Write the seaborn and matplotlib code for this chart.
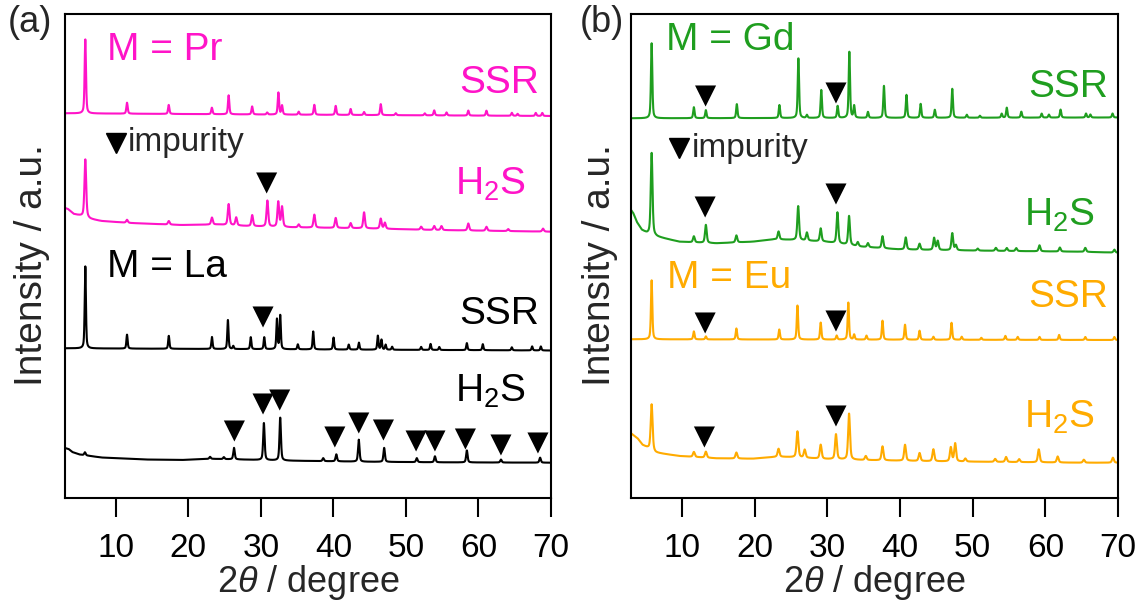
import numpy as np
import pandas as pd
import matplotlib
matplotlib.use("Agg")
import matplotlib.pyplot as plt
import seaborn as sns

# ---------------- peak lists (2theta in degree, peak height in a.u.) ----------------
# panel (a): M = Pr
pr_ssr_pos = [5.8, 11.55, 17.3, 23.25, 25.56, 28.8, 30.87, 32.42, 32.92, 35.22, 37.37, 40.32,
              42.38, 44.23, 46.53, 48.6, 52.6, 53.9, 55.6, 58.6, 61.1, 64.6, 65.4, 67.9, 68.8]
pr_ssr_h = [74, 11, 9, 6.5, 19, 8, 2, 22, 9, 3, 10, 9, 6, 3, 11, 2, 2, 5, 3, 5, 5, 3, 2, 3, 3]
pr_ssr_bg_x = [3, 30, 70]
pr_ssr_bg_y = [384.7, 383.5, 382.0]

pr_h2s_pos = [5.8, 11.55, 17.31, 23.26, 25.56, 26.6, 28.81, 30.9, 32.4, 32.92, 35.22, 37.37,
              40.32, 42.38, 44.23, 46.53, 47.1, 52.1, 53.9, 54.9, 58.6, 61.1, 64.1, 68.9]
pr_h2s_h = [58, 3, 3.5, 7, 21, 8, 11, 26, 25, 20, 3, 13, 10, 5, 16, 10, 6, 3, 4, 4, 7, 4, 2, 3]
pr_h2s_bg_x = [3, 3.4, 4.2, 5.0, 6.5, 8, 12, 19, 24, 28, 34, 44, 54, 70]
pr_h2s_bg_y = [290, 289, 284, 282.5, 279, 277, 275, 273, 273.5, 272, 270.7, 269.7, 268, 266.3]

# panel (a): M = La
la_ssr_pos = [5.8, 11.55, 17.31, 23.26, 25.46, 26.2, 28.61, 30.47, 32.22, 32.67, 35.1, 37.22,
              40.02, 42.12, 43.52, 46.13, 46.63, 47.2, 48.1, 52.1, 53.4, 54.6, 58.4, 60.6,
              64.6, 67.4, 68.6]
la_ssr_h = [82, 14, 13, 12, 29, 3, 12, 12, 30, 34, 5, 18, 12, 5, 7, 14, 10, 5, 3, 3, 6, 3, 7,
            6, 3, 4, 4]
la_ssr_bg_x = [3, 70]
la_ssr_bg_y = [149.7, 147.5]

la_h2s_pos = [5.75, 23.0, 24.9, 26.3, 30.42, 32.67, 38.6, 40.4, 43.5, 47.0, 51.5, 54.0, 58.4,
              63.1, 68.5]
la_h2s_h = [3, 2, 2, 11.5, 37, 43, 3, 7, 22, 14, 4, 6, 12, 3, 5]
la_h2s_bg_x = [3, 3.5, 4.0, 5.0, 8, 14, 19, 23, 26, 34, 44, 54, 70]
la_h2s_bg_y = [50, 49, 46, 43.5, 40.5, 38.5, 38, 39.2, 38.7, 37.3, 36.3, 35.7, 35.3]

# panel (b): M = Gd
gd_ssr_pos = [5.84, 11.65, 13.3, 17.56, 23.42, 26.03, 27.2, 29.18, 31.43, 33.04, 33.7, 35.6,
              37.8, 40.9, 42.85, 44.8, 47.2, 49.2, 51.0, 54.0, 54.7, 56.7, 59.5, 60.5, 62.1,
              65.6, 66.2, 69.25]
gd_ssr_h = [75, 11, 8, 14, 13, 60, 3, 28, 12, 66, 12, 6, 32, 23, 14, 8, 29, 3, 2, 4, 10, 6,
            4, 3, 8, 4, 3, 4]
gd_ssr_bg_x = [3, 70]
gd_ssr_bg_y = [379.7, 380.5]

gd_h2s_pos = [5.84, 11.65, 13.3, 17.5, 23.3, 26.0, 27.2, 29.1, 31.4, 33.0, 34.2, 35.6, 37.6,
              40.8, 42.7, 44.7, 45.2, 47.2, 47.7, 50.7, 53.2, 54.7, 56.0, 59.2, 62.0, 65.5,
              69.5]
gd_h2s_h = [82, 6, 18, 7, 8, 34, 8, 13, 31, 29, 4, 4, 12, 12, 6, 12, 9, 17, 5, 2, 3, 3, 3, 6,
            4, 4, 3]
gd_h2s_bg_x = [3, 3.3, 3.8, 4.5, 5.2, 6.6, 9.65, 14.7, 19.7, 22.7, 25.7, 29.7, 34.7, 39.7,
               44.7, 54.7, 64.7, 70]
gd_h2s_bg_y = [288, 285, 276, 268, 264.7, 261.3, 256.3, 254.7, 256.3, 258.7, 258, 256.3,
               251.3, 248.7, 248, 247, 246.3, 245.3]

# panel (b): M = Eu
eu_ssr_pos = [5.84, 11.65, 13.3, 17.5, 23.4, 25.9, 29.1, 31.3, 32.9, 33.7, 35.4, 37.6, 40.7,
              42.7, 44.6, 47.1, 48.5, 51.2, 54.5, 56.2, 59.2, 61.9, 65.5, 69.5]
eu_ssr_h = [59, 8, 3, 11, 10, 34, 17, 4, 37, 5, 4, 19, 15, 9, 3, 17, 3, 2, 4, 3, 3, 5, 3, 3]
eu_ssr_bg_x = [3, 70]
eu_ssr_bg_y = [158.7, 158.0]

eu_h2s_pos = [5.84, 11.65, 13.3, 17.5, 23.3, 25.9, 26.9, 29.1, 31.2, 33.0, 35.3, 37.6, 40.7,
              42.7, 44.6, 47.0, 47.6, 49.0, 53.1, 54.6, 56.4, 59.1, 61.7, 65.3, 69.3]
eu_h2s_h = [46, 5, 6, 6, 8, 26, 8, 14, 25, 46, 4, 14, 16, 8, 12, 14, 18, 3, 3, 5, 3, 13, 6, 3, 5]
eu_h2s_bg_x = [3, 3.9, 4.6, 5.4, 6.4, 9.65, 14.7, 19.7, 23.2, 25.7, 29.7, 34.7, 44.7, 54.7,
               64.7, 70]
eu_h2s_bg_y = [64.7, 59.7, 53, 49.7, 45.3, 42, 39.7, 39.3, 41.3, 40.7, 39, 38, 36.7, 36,
               35.3, 35.3]

# impurity markers (2theta, height)
tri_a_x = [30.8, 30.3, 26.35, 30.3, 32.6, 40.2, 43.5, 46.9, 51.4, 54.0, 58.2, 63.1, 68.2]
tri_a_y = [315, 181, 67, 94, 98, 61, 75, 68, 57, 57, 59, 53, 55]
tri_b_x = [13.26, 31.2, 13.2, 31.2, 13.2, 31.2, 13.1, 31.2]
tri_b_y = [402, 405, 291, 304, 175, 177, 61, 82]

x_ticks = [10, 20, 30, 40, 50, 60, 70]

PINK = "#ff14c8"
GREEN = "#1f9e1f"
ORANGE = "#ffab00"


def pattern(tt, pos, height, bg_x, bg_y, fwhm):
    """Background plus pseudo-Voigt reflections."""
    y = np.interp(tt, bg_x, bg_y)
    g = fwhm / 2.0
    for c, h in zip(pos, height):
        d = tt - c
        y = y + h * (0.5 * g ** 2 / (d ** 2 + g ** 2) + 0.5 * np.exp(-np.log(2) * (d / g) ** 2))
    return y


tt = np.arange(3.0, 70.0001, 0.02)

sns.set_style("ticks")
plt.rcParams["font.family"] = ["Liberation Sans", "DejaVu Sans"]
plt.rcParams["mathtext.fontset"] = "custom"
plt.rcParams["mathtext.rm"] = "Liberation Sans"
plt.rcParams["mathtext.it"] = "Liberation Sans:italic"

W, H = 1141, 607
fig = plt.figure(figsize=(W / 100, H / 100), dpi=100)
ax_a = fig.add_axes([65 / W, 1 - 498 / H, 486 / W, 484 / H])
ax_b = fig.add_axes([631 / W, 1 - 498 / H, 487 / W, 484 / H])

traces_a = [
    (pr_ssr_pos, pr_ssr_h, pr_ssr_bg_x, pr_ssr_bg_y, 0.22, PINK),
    (pr_h2s_pos, pr_h2s_h, pr_h2s_bg_x, pr_h2s_bg_y, 0.28, PINK),
    (la_ssr_pos, la_ssr_h, la_ssr_bg_x, la_ssr_bg_y, 0.2, "black"),
    (la_h2s_pos, la_h2s_h, la_h2s_bg_x, la_h2s_bg_y, 0.24, "black"),
]
traces_b = [
    (gd_ssr_pos, gd_ssr_h, gd_ssr_bg_x, gd_ssr_bg_y, 0.22, GREEN),
    (gd_h2s_pos, gd_h2s_h, gd_h2s_bg_x, gd_h2s_bg_y, 0.28, GREEN),
    (eu_ssr_pos, eu_ssr_h, eu_ssr_bg_x, eu_ssr_bg_y, 0.22, ORANGE),
    (eu_h2s_pos, eu_h2s_h, eu_h2s_bg_x, eu_h2s_bg_y, 0.3, ORANGE),
]

for ax, traces in ((ax_a, traces_a), (ax_b, traces_b)):
    for pos, h, bx, by, fw, col in traces:
        df = pd.DataFrame({"two_theta": tt, "intensity": pattern(tt, pos, h, bx, by, fw)})
        sns.lineplot(data=df, x="two_theta", y="intensity", ax=ax, color=col,
                     linewidth=1.5, estimator=None, sort=False)

sns.scatterplot(x=tri_a_x, y=tri_a_y, ax=ax_a, marker="v", s=230, color="black",
                edgecolor="none", zorder=5)
sns.scatterplot(x=tri_b_x, y=tri_b_y, ax=ax_b, marker="v", s=230, color="black",
                edgecolor="none", zorder=5)

for ax in (ax_a, ax_b):
    ax.set_xlim(3, 70)
    ax.set_ylim(0, 484)
    ax.set_xticks(x_ticks)
    ax.set_yticks([])
    ax.set_xlabel("")
    ax.set_ylabel("")
    for sp in ax.spines.values():
        sp.set_visible(True)
        sp.set_linewidth(1.5)
        sp.set_color("black")
    ax.tick_params(axis="x", direction="out", length=14, width=1.5, pad=11,
                   labelsize=24, colors="black", bottom=True, top=False)
    ax.text(0.5, -0.175, r"2$\it{\theta}$ / degree", transform=ax.transAxes,
            ha="center", va="center", fontsize=26)

fig.text(32 / W, 1 - 265 / H, "Intensity / a.u.", rotation=90, ha="center", va="center",
         fontsize=28)
fig.text(600 / W, 1 - 265 / H, "Intensity / a.u.", rotation=90, ha="center", va="center",
         fontsize=28)
fig.text(8 / W, 1 - 22 / H, "(a)", ha="left", va="center", fontsize=26)
fig.text(580 / W, 1 - 22 / H, "(b)", ha="left", va="center", fontsize=26)

LBL = 28
# panel (a) labels
ax_a.text(8.85, 438, "M = Pr", color=PINK, fontsize=LBL, ha="left", va="baseline")
ax_a.text(68.3, 405, "SSR", color=PINK, fontsize=LBL, ha="right", va="baseline")
ax_a.text(66.5, 303, r"H$_2$S", color=PINK, fontsize=LBL, ha="right", va="baseline")
ax_a.text(8.85, 221, "M = La", color="black", fontsize=LBL, ha="left", va="baseline")
ax_a.text(68.3, 174, "SSR", color="black", fontsize=LBL, ha="right", va="baseline")
ax_a.text(66.5, 96, r"H$_2$S", color="black", fontsize=LBL, ha="right", va="baseline")
ax_a.plot([10.0], [355], marker="v", markersize=15, color="black", linestyle="none")
ax_a.text(11.7, 355, "impurity", fontsize=24, ha="left", va="center")

# panel (b) labels
ax_b.text(7.8, 448, "M = Gd", color=GREEN, fontsize=LBL, ha="left", va="baseline")
ax_b.text(68.6, 401, "SSR", color=GREEN, fontsize=LBL, ha="right", va="baseline")
ax_b.text(66.8, 272, r"H$_2$S", color=GREEN, fontsize=LBL, ha="right", va="baseline")
ax_b.text(7.9, 210, "M = Eu", color=ORANGE, fontsize=LBL, ha="left", va="baseline")
ax_b.text(68.6, 191, "SSR", color=ORANGE, fontsize=LBL, ha="right", va="baseline")
ax_b.text(66.8, 70, r"H$_2$S", color=ORANGE, fontsize=LBL, ha="right", va="baseline")
ax_b.plot([9.66], [350], marker="v", markersize=15, color="black", linestyle="none")
ax_b.text(11.4, 350, "impurity", fontsize=24, ha="left", va="center")

fig.savefig("out.png", dpi=100)
